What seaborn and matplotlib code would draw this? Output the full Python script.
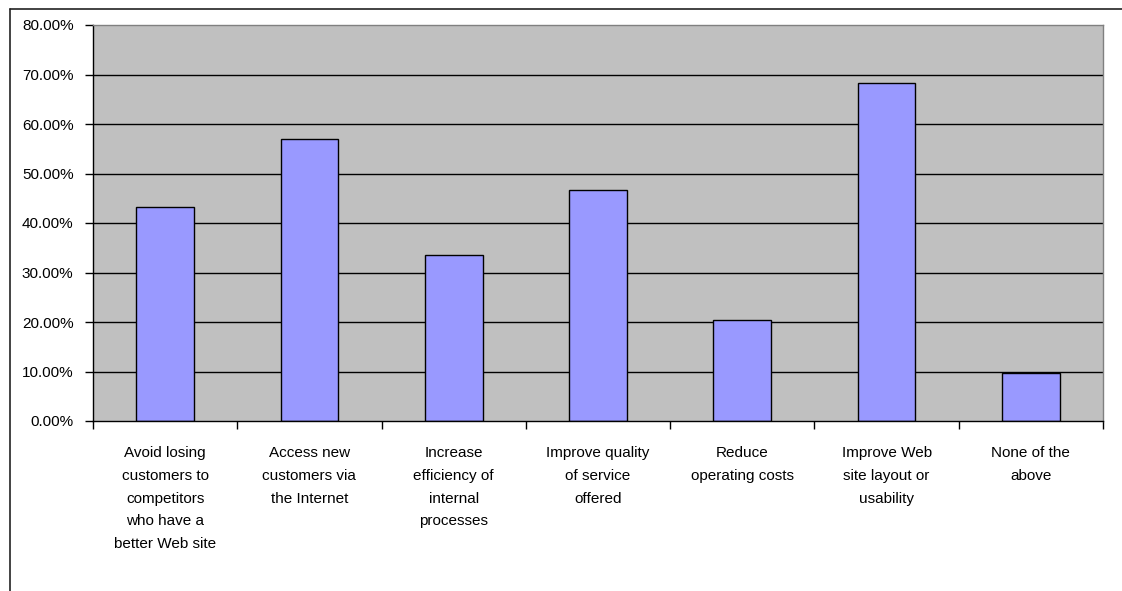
import numpy as np
import pandas as pd
import matplotlib.pyplot as plt
import matplotlib.ticker as mticker
from matplotlib.lines import Line2D
import seaborn as sns

categories = [
    'Avoid losing\ncustomers to\ncompetitors\nwho have a\nbetter Web site',
    'Access new\ncustomers via\nthe Internet',
    'Increase\nefficiency of\ninternal\nprocesses',
    'Improve quality\nof service\noffered',
    'Reduce\noperating costs',
    'Improve Web\nsite layout or\nusability',
    'None of the\nabove',
]
values = [0.433, 0.570, 0.335, 0.467, 0.205, 0.683, 0.096]
yticks = [0.0, 0.1, 0.2, 0.3, 0.4, 0.5, 0.6, 0.7, 0.8]

df = pd.DataFrame({'Reason': categories, 'Share': values})

sns.set_style('white', {'xtick.bottom': True, 'ytick.left': True,
                        'text.color': 'black', 'xtick.color': 'black',
                        'ytick.color': 'black'})
plt.rcParams['font.family'] = ['Liberation Sans', 'DejaVu Sans']

fig = plt.figure(figsize=(11.22, 5.91), dpi=100)
ax = fig.add_axes([93 / 1122, 1 - 421 / 591, 1010 / 1122, 396 / 591])
ax.set_facecolor('#C0C0C0')

sns.barplot(data=df, x='Reason', y='Share', color='#9999FF', saturation=1,
            edgecolor='black', linewidth=1, width=0.4, ax=ax)

ax.set_ylim(0, 0.8)
ax.set_xlim(-0.5, len(categories) - 0.5)
ax.set_yticks(yticks)
ax.yaxis.set_major_formatter(mticker.FuncFormatter(lambda v, p: f'{v * 100:.2f}%'))
ax.set_xlabel('')
ax.set_ylabel('')

# horizontal gridlines like Excel
for y in yticks[1:-1]:
    ax.axhline(y, color='black', lw=1, zorder=0.5)

# category boundaries as tick marks
ax.set_xticks(np.arange(-0.5, len(categories)), minor=True)
ax.tick_params(axis='x', which='minor', bottom=True, length=6, width=1,
               color='black', direction='out')
ax.tick_params(axis='x', which='major', length=0, pad=18, labelsize=11,
               labelcolor='black')
ax.tick_params(axis='y', left=True, length=6, width=1, color='black',
               direction='out', labelsize=11, pad=8, labelcolor='black')
for lbl in ax.get_xticklabels():
    lbl.set_linespacing(1.8)
    lbl.set_verticalalignment('top')

for side in ['left', 'bottom']:
    ax.spines[side].set_color('black')
    ax.spines[side].set_linewidth(1)
for side in ['top', 'right']:
    ax.spines[side].set_color('#808080')
    ax.spines[side].set_linewidth(1)

# outer chart border (cropped)
fig.add_artist(Line2D([10 / 1122, 1], [1 - 9 / 591, 1 - 9 / 591], color='#222222', lw=1.2))
fig.add_artist(Line2D([10 / 1122, 10 / 1122], [0, 1 - 9 / 591], color='#222222', lw=1.2))

fig.savefig('out.png', dpi=100, facecolor='white')
